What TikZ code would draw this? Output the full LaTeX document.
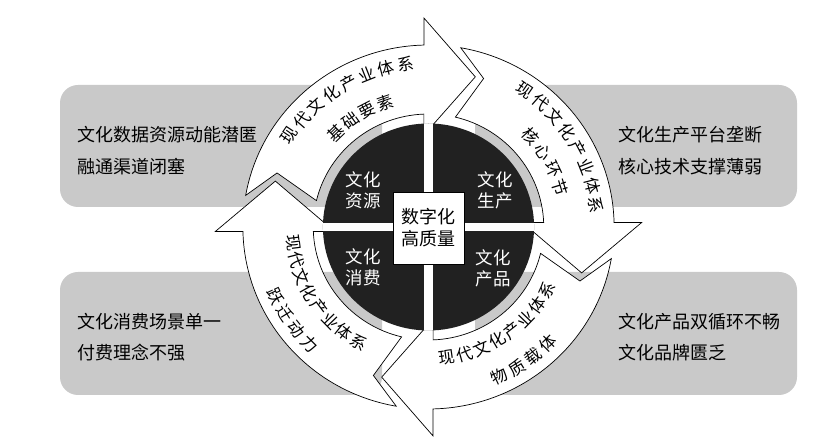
\documentclass[tikz,border=0pt]{standalone}
\usepackage{fontspec}
\setmainfont{Noto Sans CJK SC}
\definecolor{bggray}{gray}{0.79}
\definecolor{discblack}{gray}{0.13}
\newcommand\arctext[5]{%
  \foreach \c [count=\i from 0] in {#5} {%
    \pgfmathsetmacro\ang{#1+(#2)*\i}%
    \node[atxt,rotate=\ang+#4] at (\ang:#3) {\c};}}
\begin{document}
\begin{tikzpicture}[x=1pt,y=1pt,
  panel/.style={fill=bggray, rounded corners=18pt},
  sidetxt/.style={anchor=west, font=\fontsize{18pt}{22pt}\selectfont, inner sep=0pt},
  arrowshape/.style={fill=white, draw=black, line width=0.7pt, line join=miter},
  atxt/.style={font=\fontsize{16.5pt}{16.5pt}\selectfont, inner sep=0pt},
  quadtxt/.style={text=white, align=center, font=\fontsize{17.5pt}{21pt}\selectfont, inner sep=0pt},
  hubbox/.style={fill=white, draw=black, line width=0.8pt, minimum width=71pt, minimum height=72pt, align=center, font=\fontsize{18pt}{22pt}\selectfont, inner sep=0pt}]
\useasboundingbox (0,0) rectangle (814,441);
\fill[white] (0,0) rectangle (814,441);
% background panels
\fill[panel] (60,234) rectangle (382,356);
\fill[panel] (475,234) rectangle (797,356);
\fill[panel] (60,46) rectangle (382,169);
\fill[panel] (475,46) rectangle (797,169);
% side texts
\node[sidetxt] (tl1) at (77,306) {文化数据资源动能潜匿};
\node[sidetxt] (tl2) at (77,274) {融通渠道闭塞};
\node[sidetxt] (tr1) at (618,306) {文化生产平台垄断};
\node[sidetxt] (tr2) at (618,274) {核心技术支撑薄弱};
\node[sidetxt] (bl1) at (77,119) {文化消费场景单一};
\node[sidetxt] (bl2) at (77,88) {付费理念不强};
\node[sidetxt] (br1) at (618,119) {文化产品双循环不畅};
\node[sidetxt] (br2) at (618,88) {文化品牌匮乏};
% cycle
\begin{scope}[shift={(428.5,214)}, xscale=1.02]
  \foreach \r in {0,-90,-180,-270} {
    \begin{scope}[rotate=\r]
      \draw[arrowshape] (170:182) arc[start angle=170,end angle=91.4,radius=182]
        -- (-4.5,209) -- (73:157) -- (-4.5,92) -- (92.3:113)
        arc[start angle=92.3,end angle=166.5,radius=113]
        -- (160:158) -- cycle;
    \end{scope}
  }
  % arrow texts
  \arctext{146.15}{-6.9}{164}{-90}{现,代,文,化,产,业,体,系}
  \arctext{133.95}{-8.3}{131}{-90}{基,础,要,素}
  \arctext{55.3}{-6.8}{166}{-90}{现,代,文,化,产,业,体,系}
  \arctext{42.2}{-8.4}{135}{-90}{核,心,环,节}
  \arctext{-82}{7.6}{132}{90}{现,代,文,化,产,业,体,系}
  \arctext{-65}{6.67}{165}{90}{物,质,载,体}
  \arctext{187}{7.45}{134}{90}{现,代,文,化,产,业,体,系}
  \arctext{205}{6.67}{165}{90}{跃,迁,动,力}
  % disc
  \fill[discblack] (0,0) circle[radius=103.5];
  \begin{scope}
    \clip (0,0) circle[radius=103.6];
    \fill[white] (-4.5,-110) rectangle (4.5,110);
    \fill[white] (-110,-4) rectangle (110,4);
  \end{scope}
\end{scope}
\node[quadtxt] (q1) at (363,251) {文化\\资源};
\node[quadtxt] (q2) at (495,251) {文化\\生产};
\node[quadtxt] (q3) at (363,174) {文化\\消费};
\node[quadtxt] (q4) at (493,173) {文化\\产品};
\node[hubbox] (hub) at (428.5,213) {数字化\\高质量};
\end{tikzpicture}
\end{document}
